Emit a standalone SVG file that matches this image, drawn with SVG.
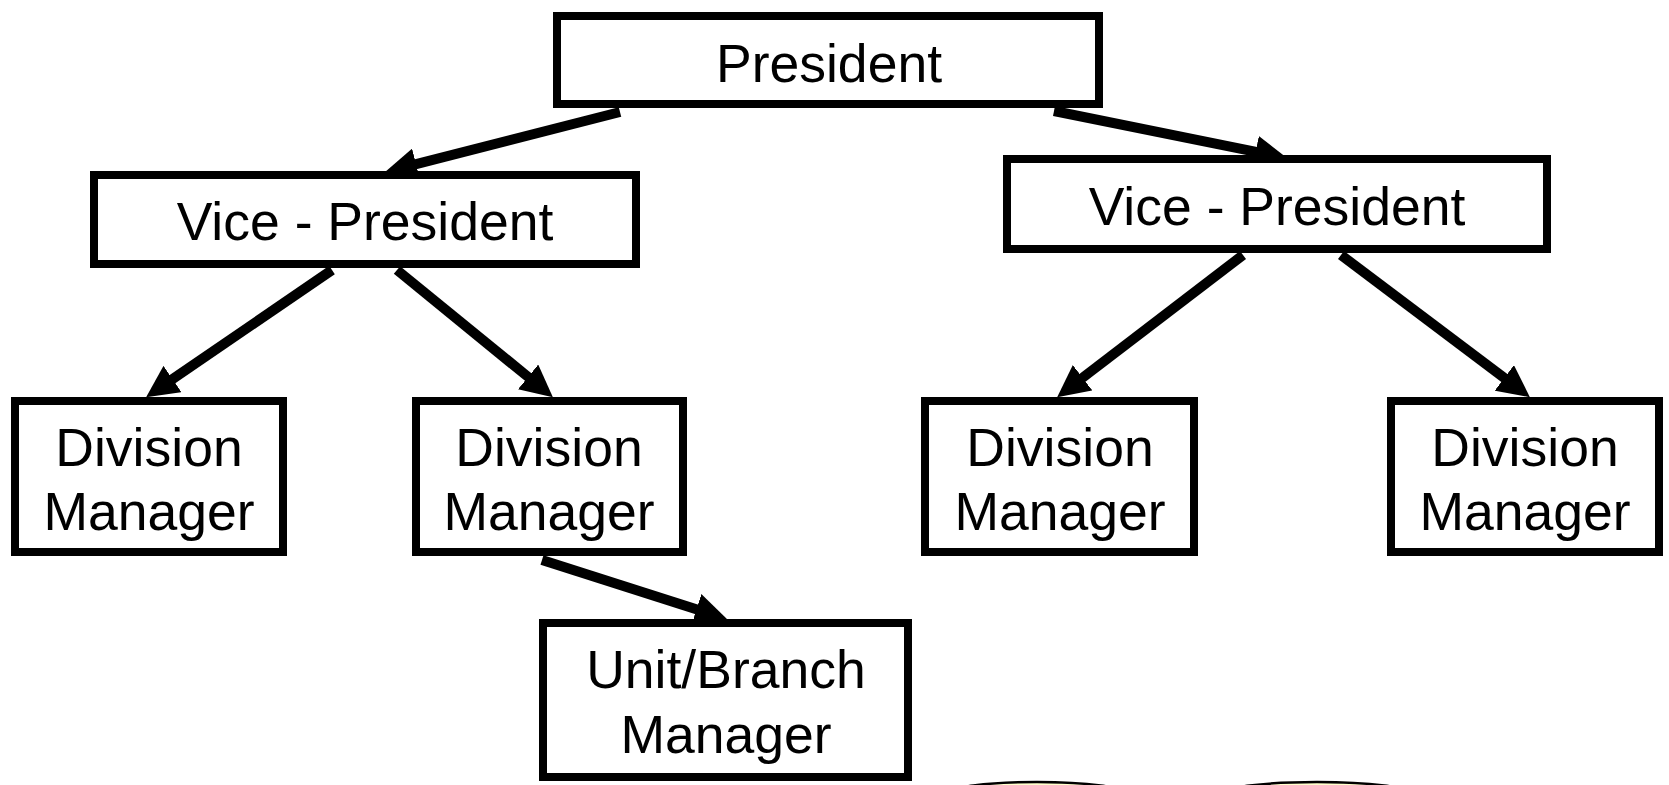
<svg xmlns="http://www.w3.org/2000/svg" width="1669" height="785" viewBox="0 0 1669 785">
  <style>
    .box { fill: #ffffff; stroke: #000000; stroke-width: 8; }
    .label { font-family: "Liberation Sans", Arial, sans-serif; font-size: 53.5px; fill: #000000; text-anchor: middle; }
    .link { stroke: #000000; stroke-width: 10; fill: none; marker-end: url(#head); }
    .blob { fill: #ffffcc; stroke: #000000; stroke-width: 2.5; }
  </style>
  <defs>
    <marker id="head" viewBox="0 0 32 32" markerWidth="32" markerHeight="32" refX="8" refY="16" orient="auto" markerUnits="userSpaceOnUse">
      <path d="M0,0 L32,16 L0,32 Z" fill="#000000"/>
    </marker>
  </defs>
  <rect width="1669" height="785" fill="#ffffff"/>

  <!-- connectors -->
  <g id="connectors">
    <line class="link" x1="620" y1="112" x2="408.3" y2="166.1"/>
    <line class="link" x1="1054" y1="111" x2="1263.5" y2="153.3"/>
    <line class="link" x1="332" y1="270" x2="165.9" y2="383.6"/>
    <line class="link" x1="397" y1="270" x2="534.3" y2="382"/>
    <line class="link" x1="1243" y1="255" x2="1076.2" y2="382.6"/>
    <line class="link" x1="1341" y1="255" x2="1510.7" y2="382.7"/>
    <line class="link" x1="542" y1="560" x2="704.1" y2="611.7"/>
  </g>

  <g id="president">
    <rect class="box" x="557" y="16" width="542" height="88"/>
    <text class="label" x="829" y="82">President</text>
  </g>

  <g id="vp-left">
    <rect class="box" x="94" y="175" width="542" height="89"/>
    <text class="label" x="365" y="240">Vice - President</text>
  </g>

  <g id="vp-right">
    <rect class="box" x="1007" y="159" width="540" height="90"/>
    <text class="label" x="1277" y="225">Vice - President</text>
  </g>

  <g id="dm-1">
    <rect class="box" x="15" y="401" width="268" height="151"/>
    <text class="label" x="149" y="466">Division</text>
    <text class="label" x="149" y="530">Manager</text>
  </g>

  <g id="dm-2">
    <rect class="box" x="416" y="401" width="267" height="151"/>
    <text class="label" x="549" y="466">Division</text>
    <text class="label" x="549" y="530">Manager</text>
  </g>

  <g id="dm-3">
    <rect class="box" x="925" y="401" width="269" height="151"/>
    <text class="label" x="1060" y="466">Division</text>
    <text class="label" x="1060" y="530">Manager</text>
  </g>

  <g id="dm-4">
    <rect class="box" x="1391" y="401" width="268" height="151"/>
    <text class="label" x="1525" y="466">Division</text>
    <text class="label" x="1525" y="530">Manager</text>
  </g>

  <g id="unit-branch">
    <rect class="box" x="543" y="623" width="365" height="154"/>
    <text class="label" x="726" y="688">Unit/Branch</text>
    <text class="label" x="726" y="753">Manager</text>
  </g>

  <!-- flat tops of two shapes just below the lower edge -->
  <ellipse class="blob" cx="1037" cy="794" rx="90" ry="12"/>
  <ellipse class="blob" cx="1317" cy="794" rx="95" ry="12"/>
</svg>
